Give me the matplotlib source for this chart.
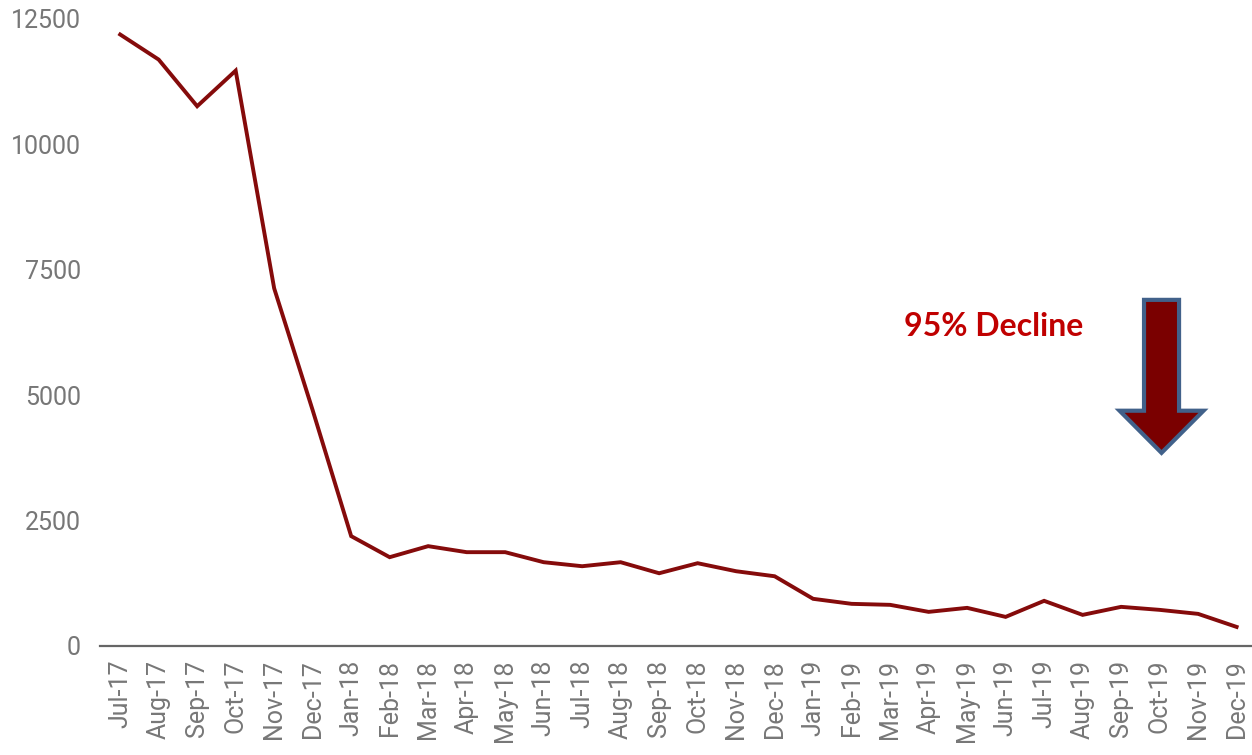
import matplotlib
matplotlib.use('Agg')
import matplotlib.pyplot as plt
from matplotlib.patches import FancyArrow

# Monthly counts, Jul 2017 - Dec 2019
months = ['Jul-17', 'Aug-17', 'Sep-17', 'Oct-17', 'Nov-17', 'Dec-17',
          'Jan-18', 'Feb-18', 'Mar-18', 'Apr-18', 'May-18', 'Jun-18',
          'Jul-18', 'Aug-18', 'Sep-18', 'Oct-18', 'Nov-18', 'Dec-18',
          'Jan-19', 'Feb-19', 'Mar-19', 'Apr-19', 'May-19', 'Jun-19',
          'Jul-19', 'Aug-19', 'Sep-19', 'Oct-19', 'Nov-19', 'Dec-19']
counts = [12190, 11690, 10760, 11470, 7130, 4700,
          2190, 1770, 1990, 1870, 1870, 1670,
          1590, 1670, 1450, 1650, 1490, 1390,
          940, 840, 820, 680, 760, 580,
          900, 620, 780, 720, 640, 380]
y_ticks = [0, 2500, 5000, 7500, 10000, 12500]

plt.rcParams['font.family'] = ['Roboto', 'DejaVu Sans']

fig = plt.figure(figsize=(12.52, 7.55), dpi=100)
ax = fig.add_axes([0.08, 0.1444, 0.92, 0.8305])

x = list(range(len(months)))
ax.plot(x, counts, color='#850b0b', linewidth=2.8, solid_joinstyle='miter')

ax.set_xlim(-0.52, 29.4)
ax.set_ylim(0, 12500)
ax.set_yticks(y_ticks)
ax.set_yticklabels([str(t) for t in y_ticks])
ax.set_xticks(x)
ax.set_xticklabels(months, rotation=90)
ax.tick_params(axis='both', length=0, labelsize=18, labelcolor='#777777')
ax.tick_params(axis='y', pad=14)
ax.tick_params(axis='x', pad=10)

for side in ['top', 'right', 'left']:
    ax.spines[side].set_visible(False)
ax.spines['bottom'].set_color('#666666')
ax.spines['bottom'].set_linewidth(1.6)

# Decline annotation: big down arrow plus label
arrow = FancyArrow(27.05, 6900, 0, -3050, width=0.91, head_width=2.18,
                   head_length=840, length_includes_head=True,
                   facecolor='#7a0000', edgecolor='#41618a', linewidth=3,
                   joinstyle='miter', clip_on=False, zorder=5)
ax.add_patch(arrow)
ax.text(22.68, 6375, '95% Decline', color='#c00000', fontsize=23,
        fontweight='bold', family=['Lato', 'DejaVu Sans'],
        ha='center', va='center')

fig.savefig('out.png', dpi=100)
